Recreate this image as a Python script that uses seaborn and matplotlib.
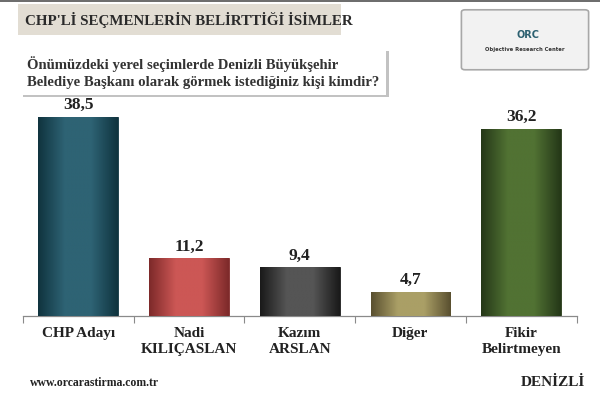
import numpy as np
import pandas as pd
import matplotlib
matplotlib.use("Agg")
import matplotlib.pyplot as plt
import seaborn as sns
from matplotlib.patches import FancyBboxPatch, Rectangle
from matplotlib.colors import LinearSegmentedColormap

## Data
categories = ["CHP Adayı", "Nadi\nKILIÇASLAN", "Kazım\nARSLAN", "Diğer", "Fikir\nBelirtmeyen"]
values = [38.5, 11.2, 9.4, 4.7, 36.2]
value_labels = ["38,5", "11,2", "9,4", "4,7", "36,2"]
bar_colors = ["#2e6374", "#cc5755", "#555555", "#aa9f66", "#517233"]
edge_dark = ["#10343f", "#7e2a2a", "#1a1a1a", "#5a5030", "#253818"]

title_text = "CHP'Lİ SEÇMENLERİN BELİRTTİĞİ İSİMLER"
question_text = "Önümüzdeki yerel seçimlerde Denizli Büyükşehir\nBelediye Başkanı olarak görmek istediğiniz kişi kimdir?"

sns.set_theme(style="white")
plt.rcParams["font.family"] = ["Liberation Serif", "DejaVu Serif"]

fig = plt.figure(figsize=(6, 4.08), dpi=100)
ax = fig.add_axes([0.038, 0.2255, 0.923, 0.507])

df = pd.DataFrame({"cat": categories, "val": values})
sns.barplot(data=df, x="cat", y="val", hue="cat", palette=bar_colors,
            legend=False, width=0.72, ax=ax, saturation=1)

# gradient shading on each bar (dark edges, lighter middle)
for patch, c, d in zip(ax.patches, bar_colors, edge_dark):
    x0, y0 = patch.get_x(), patch.get_y()
    w, h = patch.get_width(), patch.get_height()
    cmap = LinearSegmentedColormap.from_list("g", [d, c, c, d])
    grad = np.linspace(0, 1, 100).reshape(1, -1)
    im = ax.imshow(grad, cmap=cmap, aspect="auto", extent=[x0, x0 + w, y0, y0 + h], zorder=3)
    im.set_clip_path(patch)
    patch.set_edgecolor(d)
    patch.set_linewidth(0.6)

for i, (v, lab) in enumerate(zip(values, value_labels)):
    ax.text(i, v + 0.7, lab, ha="center", va="bottom", fontsize=12.5,
            fontweight="bold", color="#222222", zorder=4)

ax.set_xlim(-0.5, 4.5)
ax.set_ylim(0, 40)
ax.set_xlabel("")
ax.set_ylabel("")
ax.set_yticks([])
ax.set_xticks(range(len(categories)))
ax.set_xticklabels(categories, fontsize=11, fontweight="bold", color="#222222",
                   linespacing=1.3)
ax.tick_params(axis="x", which="major", length=0, pad=8)
ax.set_xticks(np.arange(-0.5, 5, 1), minor=True)
ax.tick_params(axis="x", which="minor", length=5, color="#8a8a8a", width=0.8, bottom=True)
for s in ["top", "right", "left"]:
    ax.spines[s].set_visible(False)
ax.spines["bottom"].set_color("#8a8a8a")
ax.spines["bottom"].set_linewidth(0.9)

# top border line
fig.patches.append(Rectangle((0, 0.994), 1, 0.006, transform=fig.transFigure,
                             facecolor="#6e6e6e", edgecolor="none"))

# title banner
fig.patches.append(Rectangle((0.03, 0.915), 0.538, 0.075, transform=fig.transFigure,
                             facecolor="#e2ddd3", edgecolor="none"))
fig.text(0.042, 0.952, title_text, fontsize=10.8, fontweight="bold", color="#2a2a2a",
         va="center", ha="left")

# question box with shadow
fig.patches.append(Rectangle((0.038, 0.762), 0.61, 0.114, transform=fig.transFigure,
                             facecolor="#9a9a9a", edgecolor="none", alpha=0.6))
fig.patches.append(Rectangle((0.033, 0.768), 0.61, 0.114, transform=fig.transFigure,
                             facecolor="white", edgecolor="none"))
fig.text(0.045, 0.823, question_text, fontsize=10.6, fontweight="bold", color="#333333",
         va="center", ha="left", linespacing=1.4)

# logo box
fig.patches.append(FancyBboxPatch((0.775, 0.835), 0.2, 0.135, boxstyle="round,pad=0.006",
                                  transform=fig.transFigure, facecolor="#f2f2f2",
                                  edgecolor="#a8a8a8", linewidth=1.2))
fig.text(0.88, 0.915, "ORC", fontsize=7, fontweight="bold", color="#2c6070", ha="center",
         va="center", family=["DejaVu Sans"])
fig.text(0.875, 0.878, "Objective Research Center", fontsize=3.8, fontweight="bold",
         color="#333333", ha="center", va="center", family=["DejaVu Sans"])

# footer
fig.text(0.05, 0.062, "www.orcarastirma.com.tr", fontsize=8.5, fontweight="bold",
         color="#222222", ha="left", va="center")
fig.text(0.975, 0.062, "DENİZLİ", fontsize=11, fontweight="bold", color="#222222",
         ha="right", va="center")

fig.savefig("out.png", dpi=100)
